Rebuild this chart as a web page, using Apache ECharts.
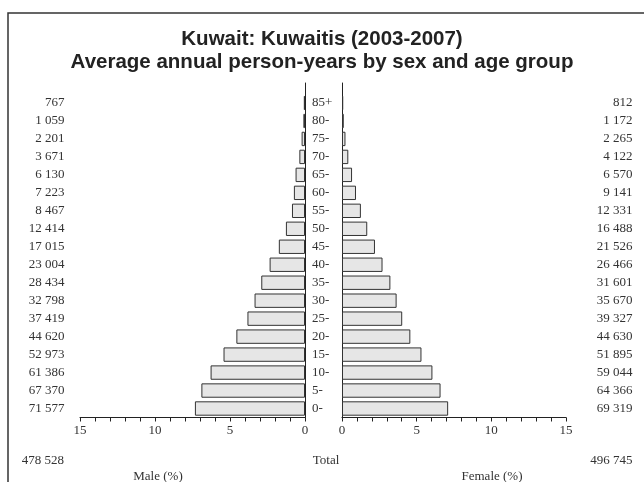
<!DOCTYPE html>
<html>
<head>
<meta charset="utf-8">
<script src="https://cdn.jsdelivr.net/npm/echarts@6/dist/echarts.min.js"></script>
<style>html,body{margin:0;padding:0;background:#fff}#c{width:644px;height:482px}</style>
</head>
<body>
<div id="c"></div>
<script>
var ageGroups = ['0-','5-','10-','15-','20-','25-','30-','35-','40-','45-','50-','55-','60-','65-','70-','75-','80-','85+'];
var maleCounts = [71577,67370,61386,52973,44620,37419,32798,28434,23004,17015,12414,8467,7223,6130,3671,2201,1059,767];
var femaleCounts = [69319,64366,59044,51895,44630,39327,35670,31601,26466,21526,16488,12331,9141,6570,4122,2265,1172,812];
var maleTotal = 478528;
var femaleTotal = 496745;
var xTicks = [0,5,10,15];

var grand = maleTotal + femaleTotal;
function pct(v){ return v / grand * 100; }
function fmt(n){ return String(n).replace(/\B(?=(\d{3})+(?!\d))/g, ' '); }

var serif = 'Liberation Serif';
var txt = '#333';
var lbl = {fontFamily: serif, fontSize: 13, color: txt};

var chart = echarts.init(document.getElementById('c'), null, {renderer:'canvas'});
var G = {top: 94, bottom: 64.5};
var option = {
  animation: false,
  backgroundColor: '#fff',
  title: {
    text: 'Kuwait: Kuwaitis (2003-2007)\nAverage annual person-years by sex and age group',
    left: 'center', top: 23,
    textStyle: {fontFamily: 'Liberation Sans', fontWeight: 'bold', fontSize: 20.5, lineHeight: 23, color: '#222'}
  },
  graphic: [
    {type:'rect', shape:{x:8, y:13, width:700, height:520}, style:{fill:'none', stroke:'#333', lineWidth:1.5}, silent:true},
    {type:'text', x:64, y:461, style:{text: fmt(maleTotal), align:'right', verticalAlign:'middle', font:'13px "Liberation Serif"', fill:txt}},
    {type:'text', x:326, y:461, style:{text:'Total', align:'center', verticalAlign:'middle', font:'13px "Liberation Serif"', fill:txt}},
    {type:'text', x:632.5, y:461, style:{text: fmt(femaleTotal), align:'right', verticalAlign:'middle', font:'13px "Liberation Serif"', fill:txt}},
    {type:'text', x:158, y:477, style:{text:'Male (%)', align:'center', verticalAlign:'middle', font:'13px "Liberation Serif"', fill:txt}},
    {type:'text', x:492, y:477, style:{text:'Female (%)', align:'center', verticalAlign:'middle', font:'13px "Liberation Serif"', fill:txt}}
  ],
  grid: [
    {left: 80, width: 225, top: G.top, bottom: G.bottom},
    {left: 342, width: 224, top: G.top, bottom: G.bottom},
    {left: 80, width: 225, top: 83, bottom: G.bottom},
    {left: 342, width: 224, top: 83, bottom: G.bottom}
  ],
  xAxis: [
    {gridIndex:0, type:'value', inverse:true, min:0, max:15, interval:1,
     axisLine:{show:true, lineStyle:{color:'#222', width:1}},
     axisTick:{show:true, length:4, lineStyle:{color:'#222'}},
     axisLabel:Object.assign({margin:7, formatter:function(v){return xTicks.indexOf(v)>=0 ? String(v) : '';}}, lbl),
     splitLine:{show:false}},
    {gridIndex:1, type:'value', min:0, max:15, interval:1,
     axisLine:{show:true, lineStyle:{color:'#222', width:1}},
     axisTick:{show:true, length:4, lineStyle:{color:'#222'}},
     axisLabel:Object.assign({margin:7, formatter:function(v){return xTicks.indexOf(v)>=0 ? String(v) : '';}}, lbl),
     splitLine:{show:false}},
    {gridIndex:2, type:'value', show:false, min:0, max:1},
    {gridIndex:3, type:'value', show:false, min:0, max:1}
  ],
  yAxis: [
    {gridIndex:0, type:'category', data: ageGroups, position:'right',
     axisLine:{show:false}, axisTick:{show:false},
     axisLabel:Object.assign({margin:7, align:'left'}, lbl)},
    {gridIndex:0, type:'category', data: maleCounts.map(fmt), position:'left',
     axisLine:{show:false}, axisTick:{show:false},
     axisLabel:Object.assign({margin:15.5, align:'right'}, lbl)},
    {gridIndex:1, type:'category', data: femaleCounts.map(fmt), position:'right',
     axisLine:{show:false}, axisTick:{show:false},
     axisLabel:Object.assign({margin:66.5, align:'right'}, lbl)},
    {gridIndex:2, type:'value', position:'right', min:0, max:1,
     axisLine:{show:true, onZero:false, lineStyle:{color:'#222', width:1}}, axisTick:{show:false}, axisLabel:{show:false}, splitLine:{show:false}},
    {gridIndex:3, type:'value', position:'left', min:0, max:1,
     axisLine:{show:true, onZero:false, lineStyle:{color:'#222', width:1}}, axisTick:{show:false}, axisLabel:{show:false}, splitLine:{show:false}}
  ],
  series: [
    {type:'bar', xAxisIndex:0, yAxisIndex:0, data: maleCounts.map(pct), barCategoryGap:'20%',
     itemStyle:{color:'#e6e6e6', borderColor:'#333', borderWidth:1}},
    {type:'bar', xAxisIndex:1, yAxisIndex:2, data: femaleCounts.map(pct), barCategoryGap:'20%',
     itemStyle:{color:'#e6e6e6', borderColor:'#333', borderWidth:1}}
  ]
};
chart.setOption(option);
</script>
</body>
</html>
